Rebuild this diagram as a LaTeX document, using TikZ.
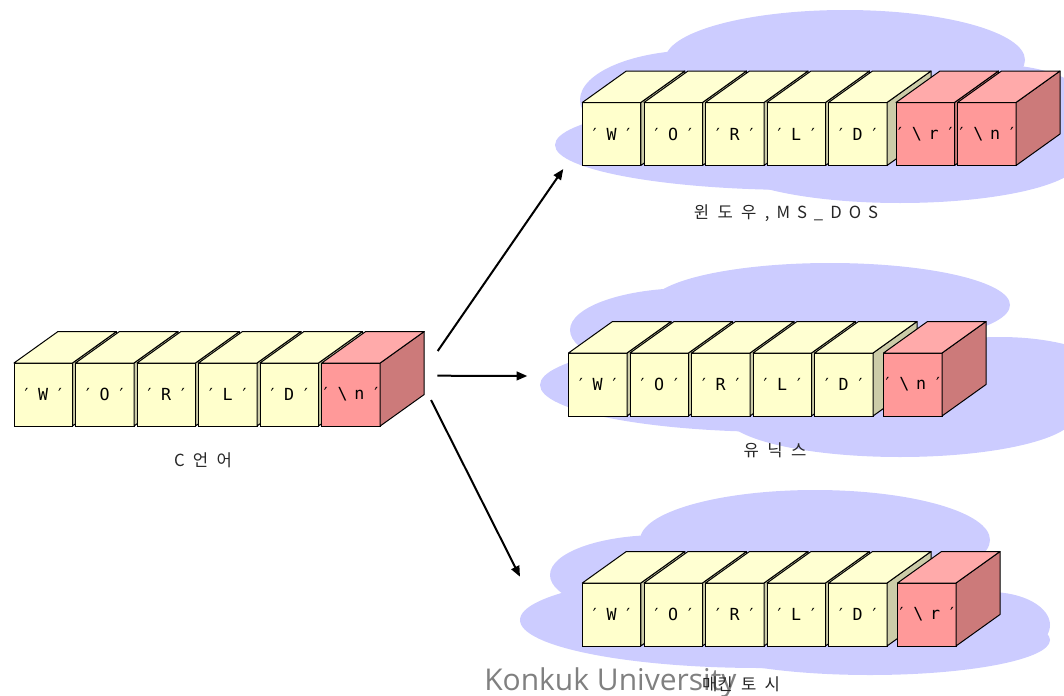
\documentclass[tikz,border=0pt]{standalone}
\usepackage{fontspec}
\usetikzlibrary{arrows.meta}
\newfontfamily\cubefont{DejaVu Sans Mono}
\newfontfamily\krfont{Noto Sans CJK KR}
\newfontfamily\tickfont{DejaVu Sans}
\newfontfamily\wmfont{Open Sans}
\definecolor{yelfront}{HTML}{FFFFCC}
\definecolor{yeltop}{HTML}{FFFFD2}
\definecolor{yelside}{HTML}{CCCCA8}
\definecolor{pinkfront}{HTML}{FF9999}
\definecolor{pinktop}{HTML}{FFAAAA}
\definecolor{pinkside}{HTML}{CC7A7A}
\definecolor{cloudblue}{HTML}{CCCCFF}
\definecolor{wmgray}{HTML}{808080}
\newcommand\mkcube[5]{%
  \node[cubefront=#4] (#1) at (#2,#3) {\makebox[0pt][c]{\cubefont\fontsize{12.5}{14}\selectfont #5}};
  \draw[cubeface=#4side] (#1.north east) -- ++(44,-31.5) -- ++(0,63) -- (#1.south east) -- cycle;
  \draw[cubeface=#4top] (#1.north west) -- ++(44,-31.5) -- ++(58.5,0) -- (#1.north east) -- cycle;
}
\newcommand\cb[1]{\makebox[12.6pt][c]{#1}}
\newcommand\tk{\cb{\tickfont ′}}
\newcommand\qq[1]{\tk\cb{#1}\tk}
\newcommand\qqq[2]{\tk\cb{#1}\cb{#2}\tk}
\newcommand\gp{\hspace{0.5em}}
\newcommand\gl{\hspace{0.42em}}
\begin{document}
\begin{tikzpicture}[x=0.75pt,y=-0.75pt,
  cubefront/.style={draw=black, line width=0.75pt, fill=#1front, anchor=north west,
    minimum width=43.875pt, minimum height=47.25pt, text width=0pt, align=center,
    inner sep=0pt, outer sep=0pt},
  cubeface/.style={draw=black, line width=0.75pt, fill=#1, line join=round},
  lbl/.style={font=\krfont\fontsize{12.5}{14}\selectfont, text=black!85, inner sep=0pt},
  arr/.style={line width=1.5pt, -{Triangle[length=8pt,width=6.5pt]}},
  cloud/.style={fill=cloudblue}]
\useasboundingbox (0,0) rectangle (1064,696);
% clouds
\fill[cloud] (700,100) ellipse [x radius=120, y radius=50];
\fill[cloud] (845,60) ellipse [x radius=180, y radius=50];
\fill[cloud] (800,145) ellipse [x radius=245, y radius=45];
\fill[cloud] (900,160) ellipse [x radius=180, y radius=43];
\fill[cloud] (1000,120) ellipse [x radius=100, y radius=55];
\fill[cloud] (690,330) ellipse [x radius=120, y radius=42];
\fill[cloud] (830,305) ellipse [x radius=180, y radius=42];
\fill[cloud] (780,385) ellipse [x radius=240, y radius=47];
\fill[cloud] (900,415) ellipse [x radius=175, y radius=42];
\fill[cloud] (1000,375) ellipse [x radius=110, y radius=38];
\fill[cloud] (660,575) ellipse [x radius=110, y radius=40];
\fill[cloud] (815,540) ellipse [x radius=175, y radius=50];
\fill[cloud] (760,620) ellipse [x radius=240, y radius=48];
\fill[cloud] (870,640) ellipse [x radius=180, y radius=35];
\fill[cloud] (990,625) ellipse [x radius=60, y radius=33];
% left row
\mkcube{cw}{14}{363}{yel}{\qq{W}}
\mkcube{co}{75.5}{363}{yel}{\qq{O}}
\mkcube{cr}{137}{363}{yel}{\qq{R}}
\mkcube{cl}{198.5}{363}{yel}{\qq{L}}
\mkcube{cd}{260}{363}{yel}{\qq{D}}
\mkcube{cn}{321.7}{363}{pink}{\qqq{\textbackslash}{n}}
% top row
\mkcube{ww}{582.3}{102.5}{yel}{\qq{W}}
\mkcube{wo}{644}{102.5}{yel}{\qq{O}}
\mkcube{wr}{705.5}{102.5}{yel}{\qq{R}}
\mkcube{wl}{767}{102.5}{yel}{\qq{L}}
\mkcube{wd}{828.5}{102.5}{yel}{\qq{D}}
\mkcube{wrr}{896}{102.5}{pink}{\qqq{\textbackslash}{r}}
\mkcube{wn}{957.5}{102.5}{pink}{\qqq{\textbackslash}{n}}
% middle row
\mkcube{uw}{568.5}{353}{yel}{\qq{W}}
\mkcube{uo}{630}{353}{yel}{\qq{O}}
\mkcube{ur}{691.5}{353}{yel}{\qq{R}}
\mkcube{ul}{753}{353}{yel}{\qq{L}}
\mkcube{ud}{814.5}{353}{yel}{\qq{D}}
\mkcube{un}{883.5}{353}{pink}{\qqq{\textbackslash}{n}}
% bottom row
\mkcube{mw}{582.3}{583}{yel}{\qq{W}}
\mkcube{mo}{644}{583}{yel}{\qq{O}}
\mkcube{mr}{705.5}{583}{yel}{\qq{R}}
\mkcube{ml}{767}{583}{yel}{\qq{L}}
\mkcube{md}{828.5}{583}{yel}{\qq{D}}
\mkcube{mrr}{897.5}{583}{pink}{\qqq{\textbackslash}{r}}
% labels
\node[lbl] (lc) at (203,460) {C\gp 언\gp 어};
\node[lbl] (lw) at (786,213) {윈\gp 도\gp 우\gp ,\gl M\gl S\gl \_\gl D\gl O\gl S};
\node[lbl] (lu) at (775,450) {유\gp 닉\gp 스};
\node[anchor=base west, inner sep=0pt, text=wmgray, font=\wmfont\fontsize{22.5}{26}\selectfont] (wm) at (484,690) {Konkuk University};
\node[lbl] (lm) at (741,684) {매킨\gp 토\gp 시};
% arrows
\coordinate (s1) at (437.7,351);
\coordinate (e1) at (563.3,169);
\coordinate (s2) at (437.3,375.7);
\coordinate (e2) at (527.3,376);
\coordinate (s3) at (431,400);
\coordinate (e3) at (520,576.7);
\draw[arr] (s1) -- (e1);
\draw[arr] (s2) -- (e2);
\draw[arr] (s3) -- (e3);
\end{tikzpicture}
\end{document}
